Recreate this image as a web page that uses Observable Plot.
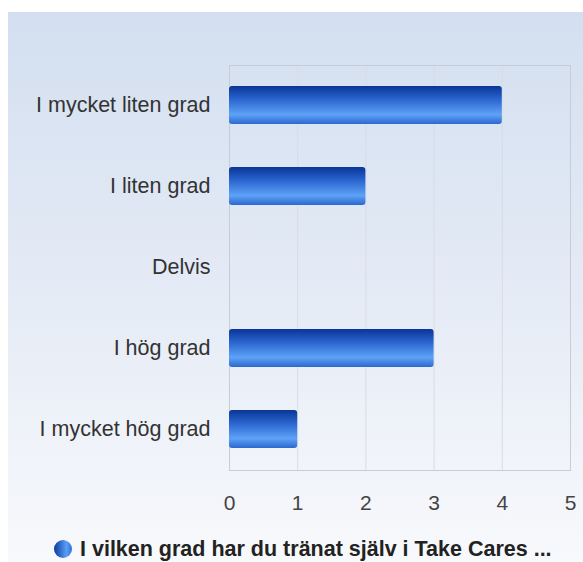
<!DOCTYPE html>
<html><head><meta charset="utf-8">
<script src="https://cdn.jsdelivr.net/npm/d3@7"></script>
<script src="https://cdn.jsdelivr.net/npm/@observablehq/plot@0.6"></script>
<style>
html,body{margin:0;padding:0;background:#fff;width:583px;height:562px;overflow:hidden;font-family:"Liberation Sans",Arial,sans-serif;}
#wrap{position:absolute;left:8px;top:12px;width:575px;height:550px;background:linear-gradient(to bottom,#d3dff0 0%,#e6ecf6 55%,#f8f9fc 100%);}
#chart{position:absolute;left:0;top:0;}
#legend{position:absolute;left:46px;top:526px;font-weight:bold;font-size:21.5px;line-height:22px;color:#222;white-space:nowrap;display:flex;align-items:center;}
#legend .dot{width:18px;height:18px;border-radius:50%;background:linear-gradient(to right,#0b3a9e,#5aa0f5 70%,#2f6fd6);margin-right:8px;}
</style></head>
<body>
<div id="wrap"><div id="chart"></div><div id="legend"><span class="dot"></span><span>I vilken grad har du tränat själv i Take Cares ...</span></div></div>
<script>
const categories = ["I mycket liten grad","I liten grad","Delvis","I hög grad","I mycket hög grad"];
const values = [4, 2, 0, 3, 1];
const xTicks = [0,1,2,3,4,5];
const seriesName = "I vilken grad har du tränat själv i Take Cares ...";

const data = categories.map((c,i)=>({cat:c, value:values[i]}));

const chart = Plot.plot({
  width: 575,
  height: 510,
  marginLeft: 221,
  marginRight: 13,
  marginTop: 53,
  marginBottom: 52,
  style: {background:"transparent", fontFamily:"'Liberation Sans', Arial, sans-serif", overflow:"visible"},
  x: {domain:[0,5], label:null},
  y: {domain: categories, paddingInner: 0.53, paddingOuter: 0.265, label:null},
  marks: [
    Plot.gridX(xTicks, {stroke:"#d8dce3", strokeOpacity:1}),
    Plot.frame({stroke:"#c8ccd3"}),
    Plot.barX(data.filter(d=>d.value>0), {y:"cat", x:"value", fill:"url(#barGrad)", rx:3}),
    Plot.axisX({ticks:xTicks, tickFormat:d=>String(d), tickSize:0, tickPadding:25, fontSize:21, fill:"#444", label:null}),
    Plot.axisY({tickSize:0, tickPadding:19, fontSize:21.5, fill:"#333", label:null})
  ]
});
const svg = d3.select(chart);
const defs = svg.insert("defs", ":first-child");
const g = defs.append("linearGradient").attr("id","barGrad").attr("x1",0).attr("y1",0).attr("x2",0).attr("y2",1);
g.append("stop").attr("offset","0%").attr("stop-color","#0a3596");
g.append("stop").attr("offset","35%").attr("stop-color","#2a65cf");
g.append("stop").attr("offset","75%").attr("stop-color","#5ea2f7");
g.append("stop").attr("offset","100%").attr("stop-color","#2c68cf");
document.getElementById("chart").appendChild(chart);
</script>
</body></html>
